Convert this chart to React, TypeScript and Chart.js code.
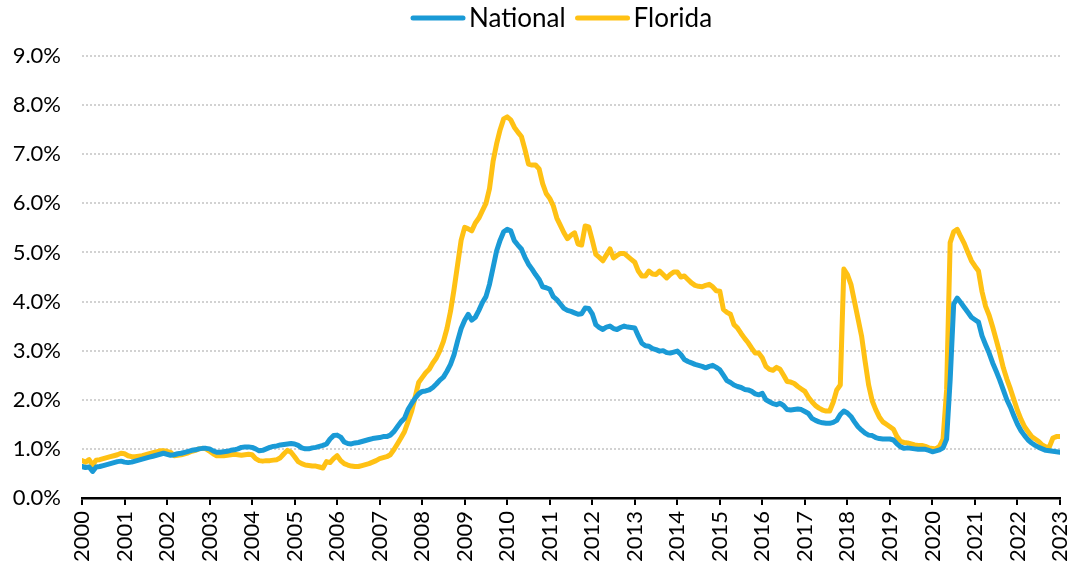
import React, { useEffect, useRef } from "react";
import { Chart, registerables } from "chart.js";

Chart.register(...registerables);

const seriesNames = ["National", "Florida"];
const startYear = 2000;
const endYear = 2023;
const yTicks = [0, 1, 2, 3, 4, 5, 6, 7, 8, 9];

// Monthly values, Jan 2000 .. Jan 2023 (percent)
const national = [
  0.64, 0.62, 0.63, 0.54, 0.63, 0.64, 0.66, 0.68, 0.70, 0.72, 0.74, 0.75,
  0.73, 0.72, 0.73, 0.75, 0.77, 0.79, 0.81, 0.83, 0.85, 0.87, 0.89, 0.91,
  0.89, 0.87, 0.88, 0.90, 0.91, 0.93, 0.95, 0.97, 0.98, 1.00, 1.01, 1.01,
  1.00, 0.96, 0.93, 0.93, 0.94, 0.95, 0.97, 0.98, 1.00, 1.03, 1.04, 1.04,
  1.03, 1.00, 0.96, 0.97, 1.00, 1.03, 1.05, 1.06, 1.08, 1.09, 1.10, 1.11,
  1.10, 1.07, 1.02, 1.00, 1.00, 1.02, 1.03, 1.05, 1.07, 1.10, 1.20, 1.27,
  1.28, 1.24, 1.14, 1.11, 1.10, 1.12, 1.13, 1.15, 1.17, 1.19, 1.21, 1.22,
  1.23, 1.25, 1.25, 1.28, 1.35, 1.45, 1.55, 1.62, 1.80, 1.92, 2.03, 2.12,
  2.17, 2.18, 2.20, 2.25, 2.32, 2.40, 2.46, 2.58, 2.72, 2.92, 3.20, 3.45,
  3.62, 3.74, 3.62, 3.68, 3.82, 3.98, 4.10, 4.35, 4.69, 5.03, 5.25, 5.42,
  5.47, 5.44, 5.24, 5.15, 5.07, 4.90, 4.76, 4.66, 4.55, 4.45, 4.30, 4.28,
  4.25, 4.10, 4.04, 3.95, 3.86, 3.82, 3.80, 3.77, 3.74, 3.75, 3.87, 3.86,
  3.75, 3.53, 3.47, 3.43, 3.48, 3.50, 3.45, 3.43, 3.47, 3.50, 3.48, 3.47,
  3.46, 3.30, 3.15, 3.10, 3.09, 3.04, 3.02, 2.99, 3.00, 2.96, 2.95, 2.97,
  2.99, 2.92, 2.82, 2.78, 2.75, 2.72, 2.70, 2.68, 2.65, 2.68, 2.70, 2.66,
  2.61, 2.50, 2.39, 2.35, 2.30, 2.27, 2.25, 2.21, 2.20, 2.17, 2.12, 2.10,
  2.13, 2.00, 1.96, 1.92, 1.90, 1.93, 1.88, 1.80, 1.79, 1.80, 1.81, 1.80,
  1.76, 1.72, 1.62, 1.58, 1.55, 1.53, 1.52, 1.52, 1.54, 1.58, 1.70, 1.77,
  1.73, 1.66, 1.55, 1.45, 1.38, 1.32, 1.28, 1.27, 1.23, 1.21, 1.20, 1.20,
  1.20, 1.18, 1.10, 1.04, 1.01, 1.02, 1.01, 1.00, 0.99, 0.99, 0.99, 0.97,
  0.94, 0.96, 0.98, 1.02, 1.20, 2.40, 3.95, 4.07, 3.98, 3.88, 3.78, 3.68,
  3.63, 3.58, 3.30, 3.12, 2.95, 2.75, 2.58, 2.40, 2.20, 2.00, 1.85, 1.67,
  1.50, 1.37, 1.27, 1.18, 1.12, 1.07, 1.03, 1.00, 0.97, 0.96, 0.95, 0.94,
  0.93,
];

const florida = [
  0.76, 0.73, 0.78, 0.67, 0.77, 0.78, 0.80, 0.82, 0.84, 0.86, 0.88, 0.91,
  0.90, 0.86, 0.84, 0.84, 0.85, 0.86, 0.88, 0.90, 0.92, 0.94, 0.96, 0.96,
  0.95, 0.93, 0.86, 0.87, 0.88, 0.90, 0.92, 0.95, 0.97, 1.00, 1.01, 1.00,
  0.95, 0.90, 0.86, 0.86, 0.86, 0.87, 0.88, 0.89, 0.88, 0.87, 0.88, 0.89,
  0.88, 0.80, 0.76, 0.75, 0.76, 0.76, 0.77, 0.78, 0.82, 0.90, 0.97, 0.93,
  0.84, 0.74, 0.70, 0.67, 0.66, 0.65, 0.65, 0.63, 0.61, 0.74, 0.72, 0.80,
  0.86, 0.76, 0.70, 0.67, 0.65, 0.64, 0.64, 0.66, 0.68, 0.70, 0.73, 0.76,
  0.80, 0.82, 0.84, 0.88, 0.98, 1.10, 1.22, 1.35, 1.55, 1.76, 2.05, 2.35,
  2.45, 2.55, 2.62, 2.75, 2.85, 3.00, 3.19, 3.45, 3.80, 4.25, 4.75, 5.25,
  5.51, 5.48, 5.44, 5.60, 5.70, 5.85, 6.00, 6.30, 6.85, 7.21, 7.50, 7.72,
  7.76, 7.70, 7.55, 7.45, 7.36, 7.10, 6.80, 6.78, 6.78, 6.70, 6.40, 6.20,
  6.10, 5.95, 5.70, 5.55, 5.40, 5.28, 5.35, 5.40, 5.17, 5.15, 5.54, 5.52,
  5.25, 4.96, 4.90, 4.83, 4.95, 5.07, 4.89, 4.94, 4.98, 4.98, 4.92, 4.86,
  4.80, 4.62, 4.52, 4.52, 4.62, 4.56, 4.55, 4.62, 4.55, 4.48, 4.55, 4.60,
  4.60, 4.50, 4.52, 4.45, 4.38, 4.33, 4.31, 4.30, 4.33, 4.35, 4.30, 4.22,
  4.21, 3.84, 3.78, 3.74, 3.53, 3.46, 3.35, 3.25, 3.16, 3.05, 2.95, 2.95,
  2.85, 2.68, 2.62, 2.60, 2.66, 2.62, 2.50, 2.37, 2.36, 2.33, 2.27, 2.22,
  2.17, 2.05, 1.96, 1.88, 1.83, 1.79, 1.77, 1.77, 1.95, 2.20, 2.30, 4.66,
  4.55, 4.35, 4.00, 3.65, 3.30, 2.78, 2.30, 1.98, 1.80, 1.65, 1.55, 1.50,
  1.45, 1.40, 1.25, 1.15, 1.13, 1.12, 1.10, 1.08, 1.07, 1.07, 1.05, 1.02,
  1.01, 1.00, 1.05, 1.20, 2.20, 5.20, 5.42, 5.47, 5.32, 5.18, 5.00, 4.83,
  4.72, 4.62, 4.20, 3.90, 3.72, 3.48, 3.22, 2.95, 2.65, 2.42, 2.22, 2.00,
  1.78, 1.60, 1.45, 1.35, 1.25, 1.20, 1.15, 1.08, 1.04, 1.04, 1.22, 1.25,
  1.25,
];

const colors = ["#1a9ad6", "#ffc114"];
const FONT = "Lato, 'Noto Sans', sans-serif";

const toPoints = (arr: number[]) => arr.map((v, i) => ({ x: startYear + i / 12, y: v }));

// Legend drawn as line + label, centred like the original
const customLegend = {
  id: "customLegend",
  afterDraw(chart: any) {
    const ctx = chart.ctx;
    ctx.save();
    ctx.font = `26px ${FONT}`;
    ctx.textBaseline = "middle";
    ctx.textAlign = "left";
    const lineLen = 50;
    const gap = 6;
    const itemGap = 12;
    const y = 18;
    let x = 413;
    chart.data.datasets.forEach((ds: any) => {
      ctx.strokeStyle = ds.borderColor;
      ctx.lineWidth = 5;
      ctx.lineCap = "round";
      ctx.beginPath();
      ctx.moveTo(x, y);
      ctx.lineTo(x + lineLen, y);
      ctx.stroke();
      ctx.fillStyle = "#000";
      const tx = x + lineLen + gap;
      ctx.fillText(ds.label, tx, y + 1);
      x = tx + ctx.measureText(ds.label).width + itemGap;
    });
    ctx.restore();
  },
};

export default function App() {
  const ref = useRef<HTMLCanvasElement | null>(null);
  useEffect(() => {
    if (!ref.current) return;
    const chart = new Chart(ref.current, {
      type: "line",
      data: {
        datasets: [national, florida].map((s, k) => ({
          label: seriesNames[k],
          data: toPoints(s),
          borderColor: colors[k],
          backgroundColor: colors[k],
          borderWidth: 5,
          pointRadius: 0,
          tension: 0,
          borderCapStyle: "round",
          borderJoinStyle: "round",
        })),
      },
      plugins: [customLegend],
      options: {
        responsive: false,
        animation: false,
        layout: { padding: { left: 13, right: 11, top: 56, bottom: 0 } },
        plugins: {
          legend: { display: false },
          tooltip: { enabled: false },
        },
        scales: {
          x: {
            type: "linear",
            min: startYear,
            max: endYear,
            offset: false,
            afterFit: (scale: any) => {
              scale.paddingLeft = 0;
              scale.paddingRight = 0;
              if (scale._margins) {
                scale._margins.left = 0;
                scale._margins.right = 0;
              }
            },
            grid: {
              drawOnChartArea: false,
              drawTicks: true,
              tickLength: 7,
              color: "#000",
              lineWidth: 2,
            },
            border: { display: true, color: "#000", width: 2.5 },
            ticks: {
              stepSize: 1,
              autoSkip: false,
              minRotation: 90,
              maxRotation: 90,
              padding: 6,
              color: "#000",
              font: { family: FONT, size: 22 },
              callback: (v: any) => String(v),
            },
          },
          y: {
            min: yTicks[0],
            max: yTicks[yTicks.length - 1],
            afterFit: (scale: any) => {
              scale.width = 69;
            },
            grid: {
              drawTicks: false,
              color: "#d2d2d2",
              lineWidth: 2,
            },
            border: { display: false, dash: [2, 2] },
            ticks: {
              stepSize: 1,
              padding: 21,
              color: "#000",
              font: { family: FONT, size: 22 },
              callback: (v: any) => Number(v).toFixed(1) + "%",
            },
          },
        },
      },
    });
    return () => chart.destroy();
  }, []);
  return (
    <div style={{ position: "fixed", left: 0, top: 0, width: 1071, height: 568, background: "#fff" }}>
      <canvas ref={ref} width={1071} height={568} style={{ display: "block", width: 1071, height: 568 }} />
    </div>
  );
}
